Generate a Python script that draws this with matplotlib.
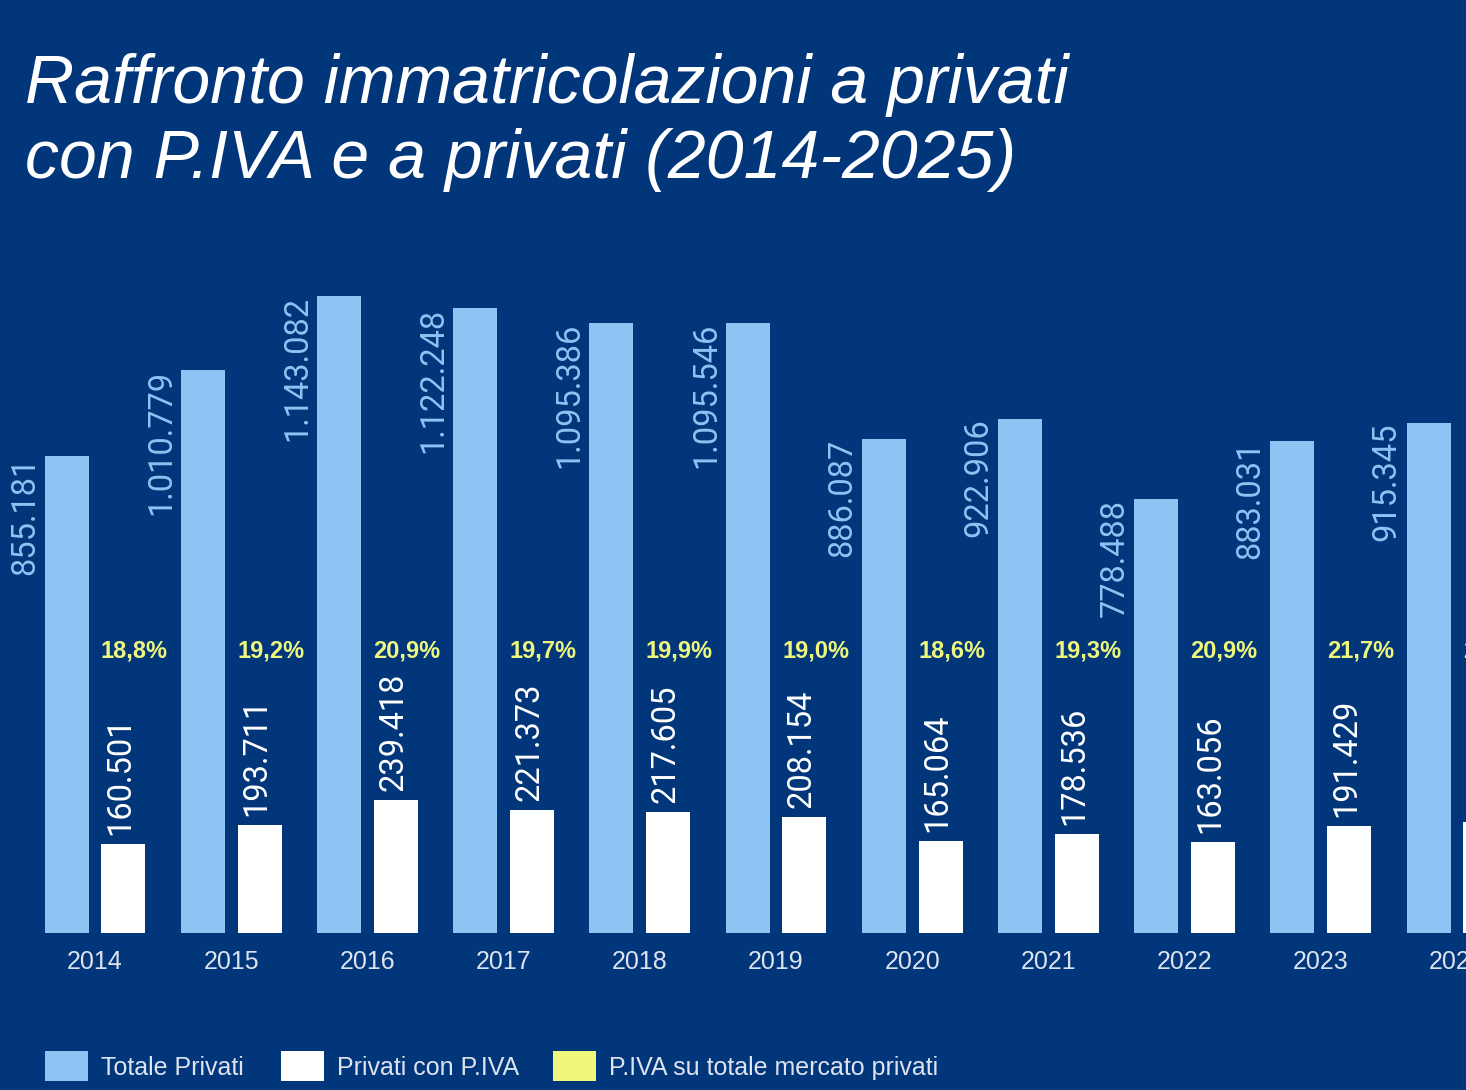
import matplotlib
matplotlib.use("Agg")
import matplotlib.pyplot as plt
from matplotlib import font_manager
from matplotlib.patches import Rectangle

# dati
anni = ["2014", "2015", "2016", "2017", "2018", "2019", "2020", "2021", "2022", "2023", "2024"]
totale_privati = [855181, 1010779, 1143082, 1122248, 1095386, 1095546, 886087, 922906, 778488, 883031, 915345]
privati_piva = [160501, 193711, 239418, 221373, 217605, 208154, 165064, 178536, 163056, 191429, 199000]
quota_piva = ["18,8%", "19,2%", "20,9%", "19,7%", "19,9%", "19,0%", "18,6%", "19,3%", "20,9%", "21,7%", "21,8%"]
legenda = ["Totale Privati", "Privati con P.IVA", "P.IVA su totale mercato privati"]

# colori
sfondo = "#02367b"
azzurro = "#8cc5f4"
bianco = "#ffffff"
giallo = "#eff77c"
grigio = "#dde3ee"

installed = {f.name for f in font_manager.fontManager.ttflist}
def pick(*names):
    for n in names:
        if n in installed:
            return n
    return "DejaVu Sans"

f_narrow = pick("Liberation Sans Narrow", "Liberation Sans")
f_num = pick("Roboto", "Open Sans", "Liberation Sans")

fig = plt.figure(figsize=(14.66, 10.90), dpi=100, facecolor=sfondo)
ax = fig.add_axes([0, 0.144, 1, 0.6725])
ax.set_facecolor(sfondo)

x = list(range(len(anni)))
w = 0.323
off = 0.208
ax.bar([i - off for i in x], totale_privati, w, color=azzurro)
ax.bar([i + off for i in x], privati_piva, w, color=bianco)

def fmt(v):
    return f"{v:,}".replace(",", ".")

for i in x:
    ax.text(i - 0.515, totale_privati[i], fmt(totale_privati[i]), rotation=90,
            ha="center", va="top", color=azzurro, fontsize=23.5,
            family=f_num, fontweight="normal")
    ax.text(i + off - 0.02, privati_piva[i] + 16000, fmt(privati_piva[i]), rotation=90,
            ha="center", va="bottom", color=bianco, fontsize=23.5,
            family=f_num, fontweight="normal")
    ax.text(i + 0.29, 506000, quota_piva[i], ha="center", va="center",
            color=giallo, fontsize=17, fontweight="bold", family="Liberation Sans")

ax.set_xlim(-0.6975, 10.066)
ax.set_ylim(0, 1315340)
ax.set_xticks(x)
ax.set_xticklabels(anni, color=grigio, fontsize=18, family="Liberation Sans")
ax.tick_params(axis="x", length=0, pad=12)
ax.set_yticks([])
for s in ax.spines.values():
    s.set_visible(False)

# titolo
fig.text(0.017, 1 - 103 / 1090, "Raffronto immatricolazioni a privati", color="white",
         fontsize=49, style="italic", family=f_narrow, va="baseline")
fig.text(0.017, 1 - 178 / 1090, "con P.IVA e a privati (2014-2025)", color="white",
         fontsize=49, style="italic", family=f_narrow, va="baseline")

# legenda
colori_leg = [azzurro, bianco, giallo]
x_leg = [45, 281, 553]
for xl, c, t in zip(x_leg, colori_leg, legenda):
    fig.add_artist(Rectangle((xl / 1466, 1 - 1081 / 1090), 43 / 1466, 30 / 1090,
                             transform=fig.transFigure, facecolor=c, edgecolor="none"))
    fig.text((xl + 56) / 1466, 1 - 1068 / 1090, t, color=grigio, fontsize=18,
             family=f_narrow, va="center", ha="left")

fig.savefig("out.png", dpi=100, facecolor=sfondo)
